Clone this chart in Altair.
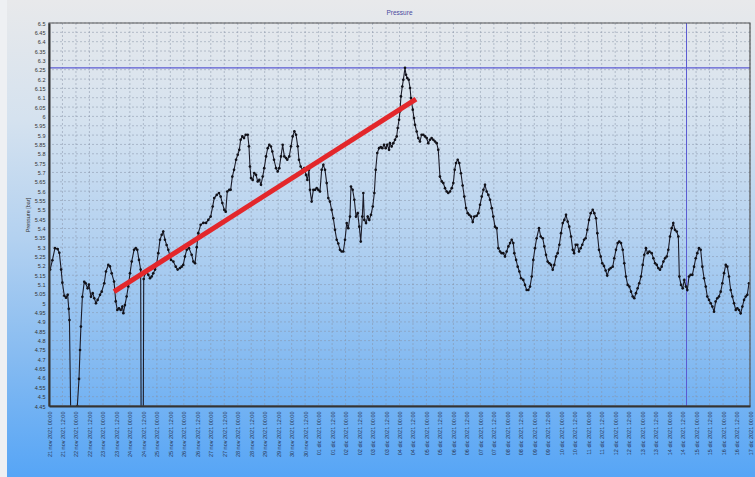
import altair as alt
import pandas as pd
import datetime as dt

# ---------------- data ----------------
# hours after 21 nov 2021 00:00
hours = [
    1, 3, 5.3, 7.7, 9.2, 10.8, 11.9, 13.6, 15.1, 16.6, 17.6, 18.2, 20.5, 24.5, 25.2, 26.7, 27.6, 28.4,
    29.7, 31.4, 32.6, 34.4, 35.5, 37.4, 38.9, 40.3, 41.8, 43.3, 45.4, 46.9, 49.2, 50.7, 52.8, 54.3,
    55.8, 57.9, 59.4, 60.8, 62.3, 63.8, 65.3, 66.2, 67.6, 69.1, 70.6, 72.1, 73.6, 75.7, 77.2, 78.6,
    80.1, 81.6, 82.3, 83.6, 84.3, 85.5, 87, 88.4, 89.9, 91.4, 92.8, 94.4, 95.9, 97.3, 98.8, 100.3,
    101.7, 103.2, 104.7, 106.2, 108.6, 110.7, 112.8, 114.5, 116.6, 118.1, 119.5, 121, 122.6, 124.6,
    127, 128.5, 130, 131.5, 132.9, 135, 137.4, 139.8, 141.8, 143.9, 145.7, 147.1, 149.3, 151.3,
    152.8, 154.3, 156, 157.3, 158.7, 160.5, 161.7, 163.2, 164.7, 166.5, 168, 169.4, 170.6, 172.1,
    173.6, 175.1, 176.9, 178, 178.9, 179.8, 181.3, 182.7, 184.3, 185.8, 187.2, 188.7, 190.2, 191.6,
    193.2, 194.7, 196.1, 197.6, 198.8, 200.3, 202.1, 203.6, 205, 206.5, 208, 209.5, 211, 212.1,
    213.9, 215.4, 216.9, 218.4, 219.9, 221.4, 222.5, 224, 225.8, 227.3, 228.8, 230, 231.4, 232.3,
    233.8, 235.3, 236.8, 238.3, 239.7, 241.2, 242.7, 244.2, 245.7, 247.2, 248.6, 250.1, 251.6,
    253.1, 254.6, 256.1, 257.5, 259, 260.5, 262, 263.5, 265, 266.4, 267.9, 268.8, 270.3, 271.8,
    273.3, 274.8, 276.2, 277.5, 278.9, 279.8, 280.7, 282.2, 283.7, 285.1, 286.6, 288.2, 289.6,
    290.8, 292.2, 293.8, 295.3, 296.7, 298.2, 299.7, 301.1, 302.7, 303.5, 305, 306.5, 308, 309.5,
    310.4, 311.6, 312.4, 313.3, 314.5, 315.4, 316.9, 317.8, 318.9, 320.2, 321.4, 322.2, 323.8,
    324.9, 325.8, 327.3, 328.7, 330.2, 331.7, 333.2, 334.7, 336.2, 337.6, 339.1, 340.6, 342.1,
    343.6, 345.1, 346.5, 348, 349.6, 351, 352.5, 354, 355.4, 357, 358.5, 359.9, 361.1, 362.3,
    363.8, 365.2, 366.7, 368.2, 369.7, 371.2, 372.7, 374.1, 375.7, 377.2, 378.6, 380.7, 382.2,
    383.7, 385.2, 386.7, 388.1, 389.6, 391.1, 392.6, 394.1, 395.5, 397, 398.5, 400, 401.5, 402.9,
    404.4, 405.9, 407.4, 408.9, 410.4, 411.9, 413.3, 414.2, 415.8, 417.2, 418.7, 420.2, 422.2,
    423.7, 425.2, 426.7, 428.2, 429.7, 431.1, 432.6, 434.1, 436.2, 437.7, 439.5, 440.9, 442.4,
    443.9, 445.4, 446.9, 448.4, 449.8, 451.3, 452.8, 454.3, 455.8, 457.3, 458.7, 460.2, 461.7,
    463.1, 464.7, 466.2, 467.4, 468.9, 470.3, 471.8, 473.3, 474.7, 476.3, 477.7, 479.2, 480.7,
    482.2, 484, 485.4, 486.9, 488.1, 489.6, 491.1, 492.5, 494, 495.5, 496.9, 498.5, 500, 501.8,
    503.2, 504.7, 506.2, 507.6, 509.2, 510.7, 512.1, 513.6, 515.1, 516.6, 518.1, 519.6, 521,
    522.5, 524, 525.4, 527, 528.5, 529.9, 531.4, 532.9, 534.4, 536.5, 538, 539.5, 541, 542.4,
    543.9, 545.4, 546.9, 548.4, 549.9, 551.3, 552.8, 554.3, 555.7, 557.2, 558.8, 560.2, 561.1,
    562.6, 564.1, 565.5, 567, 568.2, 569.7, 571.2, 572.7, 574.2, 575.7, 577.1, 578.6, 580.1,
    581.6, 583.1, 584.6, 586, 587.5, 589, 590.5, 592, 593.4, 594.9, 596.4, 597.9, 599.4, 600.9,
    602.4, 603.8, 605.3, 606.8, 608.3, 609.8, 611.3, 612.7, 614.2, 615.7, 617.2, 618.7, 620.2,
    621.6, 623.1,
]
pressure = [
    5.18, 5.23, 5.295, 5.29, 5.27, 5.18, 5.11, 5.04, 5.03, 5.045, 4.97, 4.91, 3.9, 3.9, 4.45, 4.595, 4.75, 4.875,
    5.035, 5.115, 5.107, 5.08, 5.10, 5.035, 5.054, 5.027, 5.0, 5.018, 5.045, 5.062, 5.107, 5.17, 5.205, 5.197,
    5.16, 5.116, 5.01, 4.964, 4.973, 4.964, 4.982, 4.947, 4.99, 5.036, 5.09, 5.16, 5.223, 5.286, 5.295, 5.286,
    5.232, 5.18, 3.8, 3.8, 5.13, 5.16, 5.17, 5.152, 5.134, 5.143, 5.16, 5.18, 5.214, 5.268, 5.34, 5.366,
    5.384, 5.34, 5.312, 5.286, 5.232, 5.223, 5.196, 5.18, 5.188, 5.196, 5.205, 5.25, 5.286, 5.295,
    5.259, 5.223, 5.214, 5.30, 5.375, 5.42, 5.43, 5.43, 5.446, 5.464, 5.518, 5.563, 5.58, 5.59,
    5.571, 5.536, 5.5, 5.49, 5.598, 5.607, 5.607, 5.678, 5.714, 5.768, 5.795, 5.821, 5.875, 5.893,
    5.884, 5.902, 5.902, 5.84, 5.732, 5.67, 5.66, 5.697, 5.687, 5.652, 5.66, 5.634, 5.678, 5.723,
    5.786, 5.83, 5.848, 5.839, 5.812, 5.768, 5.723, 5.705, 5.723, 5.786, 5.848, 5.786, 5.777, 5.768,
    5.786, 5.84, 5.893, 5.92, 5.902, 5.84, 5.768, 5.732, 5.714, 5.723, 5.687, 5.66, 5.714, 5.607,
    5.544, 5.607, 5.607, 5.616, 5.607, 5.598, 5.714, 5.741, 5.714, 5.643, 5.563, 5.544, 5.5,
    5.455, 5.393, 5.34, 5.32, 5.286, 5.277, 5.277, 5.34, 5.429, 5.402, 5.464, 5.625, 5.607, 5.554,
    5.464, 5.482, 5.41, 5.33, 5.464, 5.59, 5.446, 5.429, 5.464, 5.446, 5.473, 5.518, 5.59,
    5.714, 5.804, 5.83, 5.836, 5.83, 5.848, 5.83, 5.848, 5.821, 5.857, 5.839, 5.857, 5.875, 5.893,
    5.938, 5.982, 6.027, 6.107, 6.16, 6.196, 6.26, 6.223, 6.205, 6.196, 6.152, 6.098, 6.036,
    5.991, 5.955, 5.919, 5.884, 5.866, 5.902, 5.902, 5.893, 5.884, 5.857, 5.875, 5.884, 5.875,
    5.866, 5.857, 5.821, 5.678, 5.652, 5.643, 5.616, 5.598, 5.59, 5.598, 5.616, 5.643, 5.714, 5.75,
    5.768, 5.75, 5.696, 5.63, 5.571, 5.51, 5.482, 5.473, 5.464, 5.435, 5.464, 5.468, 5.482,
    5.527, 5.571, 5.607, 5.634, 5.598, 5.58, 5.554, 5.509, 5.464, 5.41, 5.402, 5.295, 5.277, 5.268,
    5.268, 5.25, 5.277, 5.304, 5.322, 5.34, 5.322, 5.268, 5.232, 5.196, 5.17, 5.134, 5.125,
    5.098, 5.071, 5.071, 5.089, 5.143, 5.232, 5.295, 5.348, 5.402, 5.357, 5.348, 5.304, 5.259,
    5.223, 5.214, 5.205, 5.179, 5.205, 5.25, 5.268, 5.313, 5.375, 5.429, 5.446, 5.473, 5.437,
    5.41, 5.357, 5.286, 5.268, 5.313, 5.313, 5.277, 5.295, 5.313, 5.34, 5.348, 5.393, 5.446,
    5.482, 5.5, 5.482, 5.455, 5.375, 5.286, 5.25, 5.214, 5.2, 5.175, 5.148, 5.18, 5.188, 5.196,
    5.241, 5.286, 5.322, 5.33, 5.322, 5.286, 5.214, 5.143, 5.098, 5.089, 5.062, 5.036, 5.027,
    5.054, 5.08, 5.107, 5.143, 5.205, 5.259, 5.295, 5.268, 5.277, 5.268, 5.241, 5.214, 5.205, 5.188,
    5.179, 5.196, 5.223, 5.241, 5.25, 5.286, 5.357, 5.402, 5.429, 5.393, 5.384, 5.357, 5.143,
    5.098, 5.08, 5.125, 5.089, 5.071, 5.143, 5.152, 5.152, 5.196, 5.241, 5.268, 5.295, 5.286,
    5.196, 5.134, 5.089, 5.036, 5.018, 5.0, 4.982, 4.955, 5.009, 5.027, 5.036, 5.062, 5.107, 5.161,
    5.205, 5.196, 5.143, 5.071, 5.036, 5.0, 4.964, 4.973, 4.964, 4.946, 4.982, 5.018, 5.036,
    5.045, 5.107,
]

trend_hours = [57.9, 326.7]
trend_pressure = [5.062, 6.093]

max_line_value = 6.26
cursor_hours = 567.5

chart_title = "Pressure"
y_title = "Pressure [bar]"
y_ticks = [round(4.45 + 0.05 * i, 2) for i in range(42)]
start = dt.datetime(2021, 11, 21, 0, 0)
x_tick_times = [start + dt.timedelta(hours=12 * i) for i in range(53)]

# ---------------- tables ----------------
df = pd.DataFrame({"time": [start + dt.timedelta(hours=h) for h in hours], "pressure": pressure})
trend_df = pd.DataFrame({"time": [start + dt.timedelta(hours=h) for h in trend_hours], "pressure": trend_pressure})
cursor_df = pd.DataFrame({"time": [start + dt.timedelta(hours=cursor_hours)]})
ygrid_df = pd.DataFrame({"pressure": y_ticks})
xgrid_df = pd.DataFrame({"time": x_tick_times})
max_df = pd.DataFrame({"pressure": [max_line_value]})


def to_dt(t):
    return alt.DateTime(year=t.year, month=t.month, date=t.day, hours=t.hour)


W, H = 701, 383
FONT = "Liberation Sans"

x_scale = alt.Scale(domain=[to_dt(x_tick_times[0]), to_dt(x_tick_times[-1])])
y_scale = alt.Scale(domain=[4.45, 6.5], nice=False, zero=False)

label_expr = ("timeFormat(datum.value, '%d') + ' ' + (month(datum.value) == 10 ? 'nov' : 'dic') + ' ' + "
              "timeFormat(datum.value, '%Y %H:%M')")

x_axis = alt.Axis(values=[to_dt(t) for t in x_tick_times], labelExpr=label_expr, labelAngle=-90,
                  labelFontSize=5.5, labelColor="#2a3550", labelFont=FONT, title=None, grid=False,
                  ticks=False, labelPadding=5, domainColor="#333333", domainWidth=2, zindex=1,
                  labelOverlap=False, labelBound=False, labelFlush=False)
y_axis = alt.Axis(values=y_ticks, format=".2~f", labelFontSize=5.5, labelColor="#333333", labelFont=FONT,
                  title=y_title, titleFontSize=5.5, titleFont=FONT, titleFontWeight="normal",
                  titleColor="#333333", titlePadding=4, grid=False, ticks=False, labelPadding=4,
                  domainColor="#333333", domainWidth=2, zindex=1, labelOverlap=False, labelFlush=False)

X = alt.X("time:T", scale=x_scale, axis=x_axis)
Y = alt.Y("pressure:Q", scale=y_scale, axis=y_axis)

gradient = alt.LinearGradient(
    gradient="linear", x1=0, x2=0, y1=0, y2=1,
    stops=[
        alt.GradientStop(color="#e8e9eb", offset=0),
        alt.GradientStop(color="#d5e2ef", offset=0.25),
        alt.GradientStop(color="#b3d1f0", offset=0.5),
        alt.GradientStop(color="#86bbf1", offset=0.75),
        alt.GradientStop(color="#56a5f6", offset=1),
    ],
)

bg = alt.Chart(pd.DataFrame({"a": [0]})).mark_rect(fill=gradient, clip=False).encode(
    x=alt.value(-42), x2=alt.value(W + 6), y=alt.value(-23), y2=alt.value(H + 71)
)

title_mark = alt.Chart(pd.DataFrame({"t": [chart_title]})).mark_text(
    font=FONT, fontSize=6.5, color="#4a4aa0", align="center", baseline="middle"
).encode(text="t:N", x=alt.value(W / 2), y=alt.value(-10))

ygrid = alt.Chart(ygrid_df).mark_rule(color="#8793a6", strokeWidth=0.6, strokeDash=[2, 2], opacity=0.85).encode(y=Y)
xgrid = alt.Chart(xgrid_df).mark_rule(color="#8793a6", strokeWidth=0.6, strokeDash=[2, 2], opacity=0.85).encode(x=X)

maxline = alt.Chart(max_df).mark_rule(color="#5a5ad2", strokeWidth=1.2).encode(y=Y)
cursor = alt.Chart(cursor_df).mark_rule(color="#5a5ad2", strokeWidth=1).encode(x=X)

line = alt.Chart(df).mark_line(
    color="#1b1b28", strokeWidth=1.1, clip=True,
    point=alt.OverlayMarkDef(filled=True, size=7, color="#111118", clip=True),
).encode(x=X, y=Y)

trend = alt.Chart(trend_df).mark_line(color="#e3272b", strokeWidth=5).encode(x=X, y=Y)

frame = alt.Chart(pd.DataFrame({"a": [0]})).mark_rect(fill=None, stroke="#555555", strokeWidth=1.2).encode(
    x=alt.value(0), x2=alt.value(W), y=alt.value(0), y2=alt.value(H)
)

chart = alt.layer(bg, title_mark, ygrid, xgrid, maxline, cursor, line, trend, frame).properties(
    width=W, height=H,
    autosize=alt.AutoSizeParams(type="none"),
    padding={"left": 49, "top": 23, "right": 5, "bottom": 71},
).configure(background="#eef0f3").configure_view(stroke=None).configure_axis(labelOverlap=False)

chart.save("out.html", embed_options={"renderer": "svg", "actions": False})
